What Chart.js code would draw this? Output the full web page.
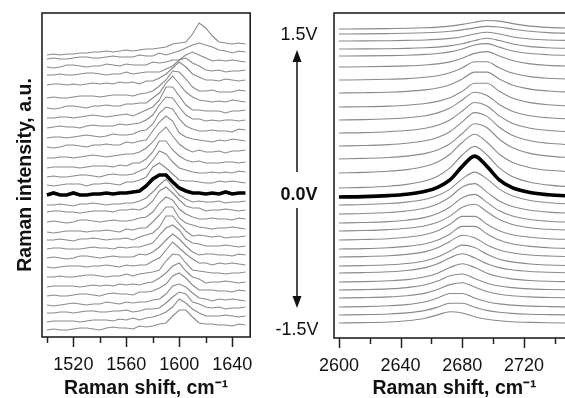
<!DOCTYPE html>
<html><head><meta charset="utf-8">
<script src="https://cdn.jsdelivr.net/npm/chart.js"></script>
<style>
html,body{margin:0;padding:0;background:#fff;overflow:hidden;width:565px;height:398px;}
#wrap{position:relative;width:565px;height:398px;overflow:hidden;background:#fff;}
#c1{position:absolute;left:0;top:0;}
#c2{position:absolute;left:300px;top:0;}
.lab{position:absolute;font-family:"Liberation Sans",Arial,sans-serif;font-size:18px;line-height:18px;color:#111;transform:translate(-50%,-50%);white-space:nowrap;}
</style></head>
<body><div id="wrap">
<canvas id="c1" width="270" height="398"></canvas>
<canvas id="c2" width="280" height="398"></canvas>
<svg width="565" height="398" style="position:absolute;left:0;top:0">
<line x1="297" y1="172" x2="297" y2="60" stroke="#111" stroke-width="1.5"/>
<polygon points="297,50 292.5,62 301.5,62" fill="#111"/>
<line x1="297" y1="208" x2="297" y2="298" stroke="#111" stroke-width="1.5"/>
<polygon points="297,308 292.5,296 301.5,296" fill="#111"/>
</svg>
<div class="lab" style="left:299px;top:33.5px">1.5V</div>
<div class="lab" style="left:299px;top:194px;font-weight:bold">0.0V</div>
<div class="lab" style="left:297px;top:329px">-1.5V</div>
</div>
<script>
// potentials of the stacked spectra, top to bottom
const voltages = ['1.5V','1.4V','1.3V','1.2V','1.1V','1.0V','0.9V','0.8V','0.7V','0.6V','0.5V','0.4V','0.3V','0.2V','0.1V','0.0V',
  '-0.1V','-0.2V','-0.3V','-0.4V','-0.5V','-0.6V','-0.7V','-0.8V','-0.9V','-1.0V','-1.1V','-1.2V','-1.3V','-1.4V','-1.5V'];
const boldTrace = '0.0V';

// G band panel
const gShift = [1500,1505,1510,1515,1520,1525,1530,1535,1540,1545,1550,1555,1560,1565,1570,1575,1580,1585,1590,1595,1600,1605,1610,1615,1620,1625,1630,1635,1640,1645,1650];
const gOffsets = [282,278,270,262,252,239,229,219,209,199,190,179,169,160,152,142,132,125,115,105,97,88,79,70,60,50,41,32,24,15,7];
const gIntensity = [
 [0,1,0,1,1,2,2,3,3,4,3,4,5,4,5,6,6,7,8,11,12,13,21,32,27,19,13,12,11,12,11],
 [0,1,0,0,1,2,2,1,1,2,3,2,2,2,4,3,3,6,4,6,8,11,14,16,14,12,9,8,6,8,7],
 [0,-1,0,2,2,1,0,1,1,3,2,1,3,2,2,2,5,4,5,7,7,12,15,12,9,6,7,6,7,6,5],
 [0,0,1,0,0,1,2,2,1,0,1,1,3,1,2,3,3,3,6,9,15,17,12,9,5,4,5,3,4,4,5],
 [0,1,1,0,1,0,1,2,1,2,1,3,2,3,1,4,4,7,11,17,23,18,11,8,5,5,4,6,5,4,5],
 [0,1,0,0,1,2,2,2,1,2,3,3,3,2,4,5,7,12,18,27,26,19,11,7,7,8,6,6,6,8,7],
 [0,-1,0,2,2,1,0,2,2,3,2,2,4,4,5,5,10,15,25,32,24,16,11,8,7,6,7,6,8,7,6],
 [0,0,1,1,0,1,2,3,2,1,2,3,4,2,5,8,11,18,31,31,22,13,8,8,7,7,7,5,7,7,8],
 [0,1,2,1,1,0,2,3,2,2,2,4,3,4,5,8,13,23,31,30,21,13,9,9,7,8,7,8,8,7,8],
 [0,1,1,0,1,2,3,2,1,2,4,3,3,4,7,8,14,25,31,29,19,12,9,7,7,8,7,7,6,9,8],
 [0,-1,0,2,2,1,0,2,2,3,2,2,5,4,6,7,16,25,31,26,14,10,8,7,6,5,7,6,8,7,6],
 [0,0,1,1,0,1,2,3,2,1,2,3,4,4,6,10,16,25,31,22,14,9,6,8,6,6,7,5,7,7,8],
 [0,1,1,1,1,0,1,2,2,2,1,3,2,5,5,9,16,27,27,18,12,8,6,7,5,5,5,6,6,5,6],
 [0,1,0,0,1,2,2,1,0,2,3,2,2,3,6,9,17,26,23,15,9,7,5,4,4,5,4,5,4,6,5],
 [0,-1,0,1,1,1,-1,1,1,2,1,0,3,3,5,8,18,22,17,11,5,4,4,3,2,2,4,3,4,3,2],
 [0,2,0,0,2,0,0,1,1,2,1,2,2,3,4,9,16,20,20,13,7,4,2,2,1,2,1,3,1,2,2],
 [0,0,1,0,-1,1,1,2,1,0,1,1,2,2,4,7,13,20,26,18,10,6,3,4,3,3,4,2,3,3,4],
 [0,1,1,0,0,-1,0,1,1,1,0,2,2,3,2,5,11,21,25,19,12,6,4,4,1,2,2,3,2,1,2],
 [0,1,0,-1,0,2,2,1,0,1,2,1,1,2,4,5,10,19,25,22,13,8,5,3,3,4,3,3,2,4,3],
 [0,-1,0,1,1,1,0,1,1,2,1,0,3,2,4,4,10,17,25,25,14,9,7,5,4,3,4,4,5,4,3],
 [0,0,1,0,-1,1,1,2,1,0,1,1,2,0,3,5,7,13,24,24,16,9,4,5,4,3,4,2,3,3,4],
 [0,1,1,0,0,0,1,2,1,1,0,2,1,2,2,4,6,14,21,24,19,10,6,5,3,3,3,4,3,2,3],
 [0,1,0,-1,0,2,2,1,0,1,2,1,1,1,4,3,6,11,18,24,19,12,6,3,4,4,3,3,2,4,3],
 [0,-1,0,1,1,1,0,1,1,2,1,0,2,1,2,2,6,9,17,25,19,13,8,4,4,2,4,3,4,3,2],
 [0,0,1,0,0,1,2,2,1,0,1,1,3,1,3,4,5,7,16,23,22,14,7,6,5,4,4,3,4,4,5],
 [0,1,1,1,1,0,1,2,1,2,1,3,2,3,2,4,5,9,14,21,24,16,10,8,4,5,5,6,5,4,5],
 [0,1,0,0,1,2,2,1,0,2,3,2,2,1,4,4,5,8,12,20,23,18,11,6,6,6,5,5,4,6,5],
 [0,-1,0,1,2,1,0,1,1,3,2,1,3,2,3,3,5,6,11,19,21,18,12,7,6,4,6,5,6,5,4],
 [0,0,1,1,0,1,2,2,1,1,2,2,3,1,2,4,4,5,10,16,21,19,11,9,6,5,6,4,5,5,6],
 [0,1,1,1,1,0,1,2,2,2,1,3,2,4,2,4,5,7,10,15,23,19,13,9,6,6,6,7,6,5,6],
 [0,1,0,0,1,2,2,1,0,2,3,2,2,1,4,3,4,6,7,14,20,20,13,7,6,6,5,5,4,6,5]
];
const gMajorTicks = [1520,1560,1600,1640];
const gMinorTicks = [1500,1540,1580,1620];

// 2D band panel
const dShift = [2600,2616,2632,2644,2656,2664,2672,2680,2688,2696,2704,2712,2724,2736,2752];
const dOffsets = [308.6,303.7,296.8,288.7,281.6,270.6,257.4,244.3,230.2,217.1,204,190.9,177.9,163.7,148.6,139.9,
  131.9,122.9,114,106.1,97.1,88.1,80.1,71.2,64.2,55.3,47.3,39.4,30.4,22.5,14.5];
const dIntensity = [
 [.4,.5,.8,1.1,1.7,2.3,3.3,5.0,7.2,8.9,8.3,6.0,3.3,2.0,1.1],
 [.3,.4,.7,1.0,1.5,2.1,3.0,4.4,6.4,7.9,7.3,5.4,3.0,1.7,1.0],
 [.2,.3,.5,.8,1.2,1.8,2.8,4.5,7.2,9.0,7.2,4.5,2.2,1.2,.7],
 [.3,.4,.6,.9,1.5,2.2,3.4,5.5,8.8,11,8.8,5.5,2.7,1.5,.8],
 [.4,.5,.8,1.2,2.0,2.9,4.5,7.4,11.4,12.8,9.3,5.7,2.9,1.7,.9],
 [.4,.6,1.0,1.5,2.4,3.5,5.5,9.1,14.0,15.8,11.5,7.1,3.5,2.0,1.1],
 [.6,.8,1.3,2.0,3.3,4.9,7.8,12.8,18.8,18.8,12.8,7.8,4.0,2.3,1.3],
 [.7,1.0,1.5,2.3,3.8,5.7,9.0,14.7,21.6,21.6,14.7,9.0,4.6,2.7,1.5],
 [.8,1.1,1.7,2.6,4.3,6.4,10.1,16.6,24.5,24.5,16.6,10.1,5.2,3.0,1.7],
 [.9,1.3,2.1,3.1,5.2,8.0,12.8,20.9,28.6,25.4,16.4,10.0,5.2,3.1,1.8],
 [1.0,1.4,2.3,3.5,5.8,8.8,14.1,23.0,31.5,28.1,18.1,11.1,5.8,3.5,2.0],
 [1.1,1.6,2.5,3.8,6.3,9.6,15.4,25.2,34.5,30.7,19.8,12.1,6.3,3.8,2.2],
 [1.1,1.7,2.6,4.0,6.7,10.2,16.3,26.6,36.4,32.4,20.9,12.8,6.7,4.0,2.3],
 [1.3,1.9,3.0,4.7,8.0,12.3,20.0,32.0,40.0,32.0,20.0,12.3,6.6,4.0,2.4],
 [1.4,2.0,3.2,5.0,8.6,13.2,21.5,34.4,43.0,34.4,21.5,13.2,7.1,4.3,2.5],
 [1.1,1.5,2.5,3.9,6.8,10.7,18.2,31.7,42.0,31.7,18.2,10.7,5.5,3.3,1.9],
 [1.1,1.6,2.6,4.0,6.8,10.5,17.0,27.2,34.0,27.2,17.0,10.5,5.6,3.4,2.0],
 [1.1,1.6,2.6,4.1,7.1,11.1,18.1,28.1,31.5,23.0,14.1,8.8,4.8,3.0,1.8],
 [1.0,1.5,2.4,3.8,6.6,10.4,17.0,26.3,29.6,21.6,13.2,8.3,4.5,2.8,1.7],
 [.9,1.4,2.3,3.6,6.2,9.7,15.8,24.6,27.6,20.1,12.3,7.7,4.2,2.6,1.6],
 [.9,1.4,2.2,3.6,6.4,10.1,16.6,24.5,24.5,16.6,10.1,6.4,3.6,2.2,1.4],
 [.9,1.3,2.2,3.5,6.2,9.8,16.0,23.5,23.5,16.0,9.8,6.2,3.5,2.2,1.3],
 [.9,1.3,2.1,3.5,6.3,10.1,16.5,22.7,20.2,13.0,8.0,5.1,2.9,1.9,1.2],
 [.8,1.2,2.0,3.3,6.1,9.7,15.8,21.7,19.3,12.5,7.6,4.9,2.8,1.8,1.1],
 [.8,1.2,2.0,3.3,6.2,10.0,16.0,20.0,16.0,10.0,6.2,4.0,2.3,1.5,.9],
 [.7,1.1,1.9,3.1,5.9,9.5,15.2,19.0,15.2,9.5,5.9,3.8,2.2,1.4,.9],
 [.7,1.1,1.8,3.1,5.9,9.6,14.9,16.7,12.2,7.5,4.7,3.1,1.8,1.2,.8],
 [.6,1.0,1.7,2.9,5.5,9.1,14.0,15.8,11.5,7.1,4.4,2.9,1.7,1.1,.7],
 [.6,1.0,1.8,3.0,5.9,9.6,14.1,14.1,9.6,5.9,3.7,2.5,1.5,1.0,.6],
 [.5,.9,1.5,2.6,5.1,8.3,12.2,12.2,8.3,5.1,3.2,2.1,1.3,.9,.5],
 [.5,.9,1.5,2.7,5.3,8.6,11.8,10.5,6.8,4.2,2.7,1.8,1.1,.7,.5]
];
const dMajorTicks = [2600,2640,2680,2720];
const dMinorTicks = [2620,2660,2700,2740];

const FONT = '"Liberation Sans", Arial, Helvetica, sans-serif';
Chart.defaults.font.family = FONT;
Chart.defaults.color = '#111';

function buildSets(xs, offsets, rows, smooth) {
  return rows.map((row, k) => {
    const bold = voltages[k] === boldTrace;
    return {
      label: voltages[k],
      data: row.map((v, i) => ({x: xs[i], y: offsets[k] + v})),
      borderColor: bold ? '#000' : '#8a8a8a',
      borderWidth: bold ? 3.6 : 1.1,
      order: bold ? 0 : 1,
      pointRadius: 0,
      fill: false,
      tension: 0,
      cubicInterpolationMode: smooth ? 'monotone' : 'default'
    };
  });
}

const frameTicks = {
  id: 'frameTicks',
  afterDraw(chart, args, opts) {
    const {ctx, chartArea: a} = chart;
    const x = chart.scales.x;
    ctx.save();
    ctx.strokeStyle = '#222';
    ctx.lineWidth = 1.6;
    ctx.strokeRect(a.left, a.top, a.right - a.left, a.bottom - a.top);
    ctx.lineWidth = 1.5;
    const tick = (v, len) => {
      const px = Math.round(x.getPixelForValue(v)) + 0.5;
      ctx.beginPath(); ctx.moveTo(px, a.bottom); ctx.lineTo(px, a.bottom + len); ctx.stroke();
    };
    opts.major.forEach(v => tick(v, 10));
    opts.minor.forEach(v => tick(v, 6));
    ctx.restore();
  }
};

function xScale(min, max, majors, h) {
  return {
    type: 'linear', min, max,
    afterFit(s) { s.height = h; },
    grid: {display: false, drawTicks: false},
    border: {display: false},
    ticks: {
      stepSize: 20, includeBounds: false, autoSkip: false, maxRotation: 0, padding: 17,
      color: '#111', font: {family: FONT, size: 18},
      callback: (v) => majors.includes(Math.round(v)) ? String(Math.round(v)) : ''
    },
    title: {display: true, text: 'Raman shift, cm\u207B\u00B9', color: '#111',
      font: {family: FONT, size: 19.5, weight: 'bold', lineHeight: 1}, padding: {top: 0, bottom: 0}}
  };
}

new Chart(document.getElementById('c1'), {
  type: 'line',
  data: {datasets: buildSets(gShift, gOffsets, gIntensity, false)},
  options: {
    responsive: false, animation: false, events: [],
    layout: {padding: {left: 0, top: 13, right: 9, bottom: 0}},
    plugins: {legend: {display: false}, tooltip: {enabled: false},
      frameTicks: {major: gMajorTicks, minor: gMinorTicks}},
    scales: {
      x: xScale(1496.3, 1653.6, gMajorTicks, 61),
      y: {min: 0, max: 324, afterFit(s) { s.width = 42; },
        grid: {display: false, drawTicks: false}, border: {display: false}, ticks: {display: false},
        title: {display: true, text: 'Raman intensity, a.u.', color: '#111',
          font: {family: FONT, size: 19.5, weight: 'bold', lineHeight: 1}, padding: {top: 16, bottom: 0}}}
    }
  },
  plugins: [frameTicks]
});

new Chart(document.getElementById('c2'), {
  type: 'line',
  data: {datasets: buildSets(dShift, dOffsets, dIntensity, true)},
  options: {
    responsive: false, animation: false, events: [],
    layout: {padding: {left: 34, top: 13, right: 5, bottom: 0}},
    plugins: {legend: {display: false}, tooltip: {enabled: false},
      frameTicks: {major: dMajorTicks, minor: dMinorTicks}},
    scales: {
      x: xScale(2596.8, 2753.1, dMajorTicks, 60),
      y: {display: false, min: 0, max: 325}
    }
  },
  plugins: [frameTicks]
});
</script>
</body></html>
